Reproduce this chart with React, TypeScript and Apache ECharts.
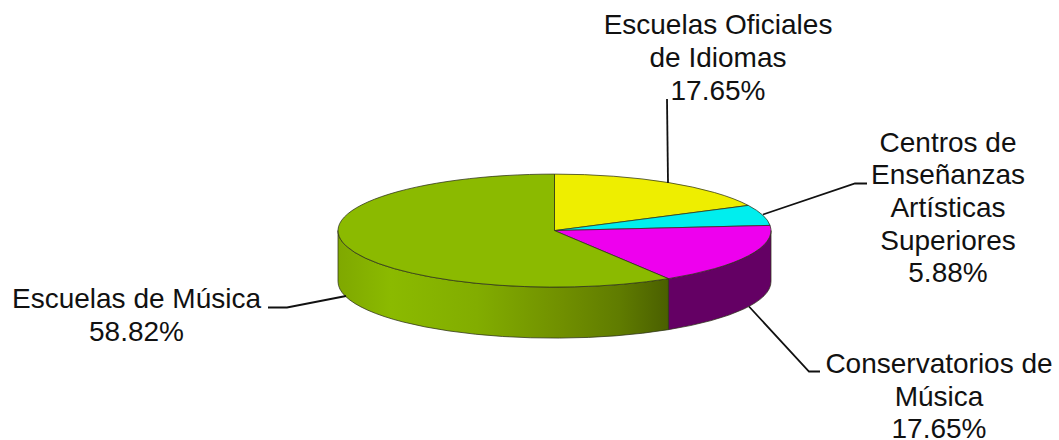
import React, { useEffect, useRef } from "react";
import * as echarts from "echarts";

const categories = ["Escuelas Oficiales\nde Idiomas", "Centros de\nEnseñanzas\nArtísticas\nSuperiores", "Conservatorios de\nMúsica", "Escuelas de Música"];
const values = [17.65, 5.88, 17.65, 58.82];
const topColors = ["#EEEE00", "#00EEEE", "#EE00EE", "#8BBA00"];

const CX = 554.5, CY = 230.6, RX = 216.5, RY = 56.5, DEPTH = 51;
const total = values.reduce((a, b) => a + b, 0);
const startOf = (i: number) => values.slice(0, i).reduce((a, b) => a + b, 0) / total * Math.PI * 2;
const pt = (t: number, dy = 0) => [CX + RX * Math.sin(t), CY - RY * Math.cos(t) + dy];

const wallFills: any[] = [
  null,
  null,
  "#640064",
  {
    type: "linear", x: 0, y: 0, x2: 1, y2: 0,
    colorStops: [
      { offset: 0, color: "#7FA800" },
      { offset: 0.16, color: "#8BBA00" },
      { offset: 0.42, color: "#82AD00" },
      { offset: 0.68, color: "#708F00" },
      { offset: 0.85, color: "#607C00" },
      { offset: 1, color: "#4A5F00" },
    ],
  },
];

const EDGE = "rgba(45,50,25,0.75)";

const renderSlice = (params: any, api: any) => {
  const i = params.dataIndex;
  const a = startOf(i);
  const b = a + api.value(0) / total * Math.PI * 2;
  const children: any[] = [];
  const wa = Math.max(a, Math.PI / 2);
  const wb = Math.min(b, Math.PI * 1.5);
  if (wb > wa) {
    const p = pt(wa), q = pt(wb), q2 = pt(wb, DEPTH), p2 = pt(wa, DEPTH);
    children.push({
      type: "path",
      shape: { pathData: `M${p[0]} ${p[1]}A${RX} ${RY} 0 0 1 ${q[0]} ${q[1]}L${q2[0]} ${q2[1]}A${RX} ${RY} 0 0 0 ${p2[0]} ${p2[1]}Z` },
      style: { fill: wallFills[i], stroke: EDGE, lineWidth: 1 },
    });
  }
  const s = pt(a), e = pt(b);
  const large = b - a > Math.PI ? 1 : 0;
  children.push({
    type: "path",
    shape: { pathData: `M${CX} ${CY}L${s[0]} ${s[1]}A${RX} ${RY} 0 ${large} 1 ${e[0]} ${e[1]}Z` },
    style: { fill: topColors[i], stroke: EDGE, lineWidth: 1 },
  });
  return { type: "group", children };
};

const labelAnchors = [[718, 57.5], [948, 207.5], [939, 396], [136.5, 315]];
const leaders = [
  [[667, 99], [668, 183]],
  [[867, 183.5], [855, 183.5], [763, 214.5]],
  [[820, 371.5], [809, 371.5], [749, 306.5]],
  [[268, 307.5], [287, 307.5], [346, 296]],
];

export default function App() {
  const ref = useRef<HTMLDivElement>(null);
  useEffect(() => {
    const chart = echarts.init(ref.current!, null, { renderer: "svg" });
    chart.setOption({
      animation: false,
      backgroundColor: "#fff",
      series: [{
        type: "custom",
        coordinateSystem: "none",
        silent: true,
        data: values.map((v) => [v]),
        renderItem: renderSlice,
      }],
      graphic: [
        ...leaders.map((points) => ({
          type: "polyline",
          shape: { points },
          z: 10,
          style: { stroke: "#111", lineWidth: 1.8, fill: "none" },
        })),
        ...categories.map((c, i) => ({
          type: "text",
          x: labelAnchors[i][0],
          y: labelAnchors[i][1],
          z: 11,
          style: {
            text: `${c}\n${values[i].toFixed(2)}%`,
            font: '28px "Liberation Sans", Arial, sans-serif',
            fill: "#111",
            align: "center",
            verticalAlign: "middle",
            lineHeight: 32.7,
          },
        })),
      ],
    });
    return () => chart.dispose();
  }, []);
  return <div ref={ref} style={{ position: "fixed", left: 0, top: 0, width: 1059, height: 440 }} />;
}
